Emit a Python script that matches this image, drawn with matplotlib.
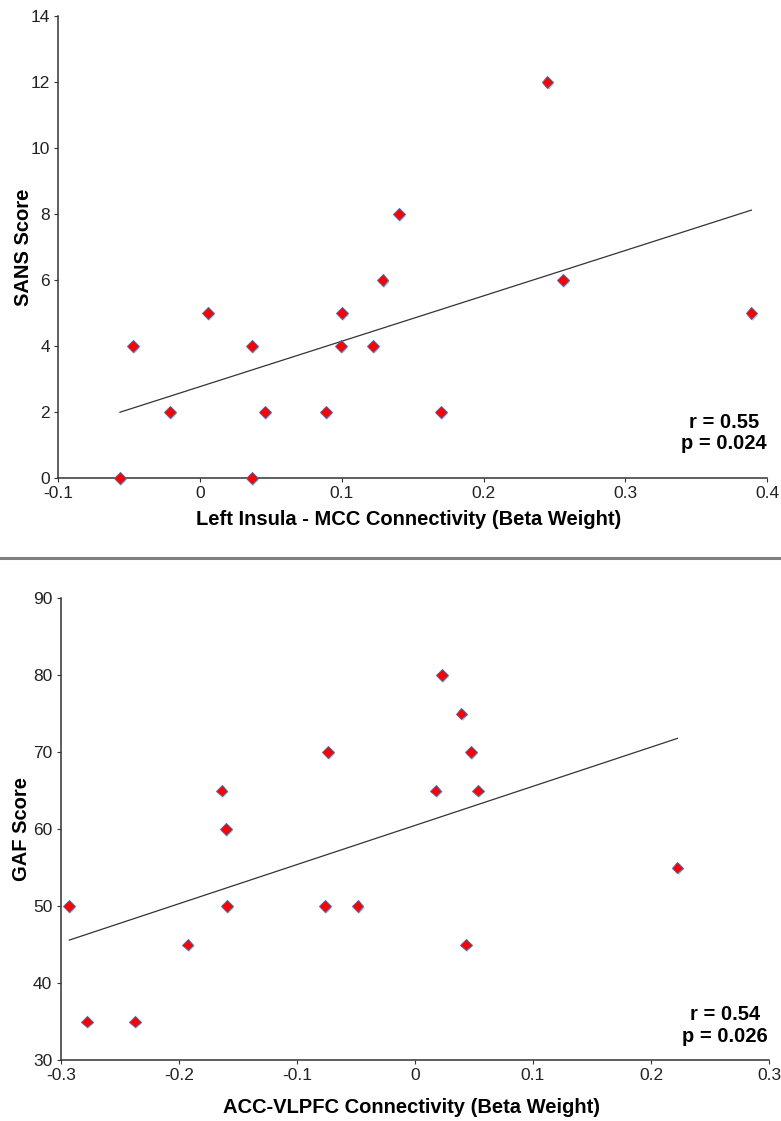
import numpy as np
import matplotlib
matplotlib.use("Agg")
import matplotlib.pyplot as plt
import matplotlib.patheffects as pe

plt.rcParams['font.family'] = ['Liberation Sans', 'DejaVu Sans']

# top panel: left insula - MCC connectivity vs SANS
insula_x = [-0.0565, -0.0475, -0.0212, 0.0054, 0.0368, 0.0368, 0.0458, 0.089, 0.0992,
            0.1003, 0.1222, 0.1288, 0.1405, 0.2451, 0.2561, 0.389, 0.1699]
sans_y = [0, 4, 2, 5, 4, 0, 2, 2, 4, 5, 4, 6, 8, 12, 6, 5, 2]

# bottom panel: ACC-VLPFC connectivity vs GAF
acc_x = [-0.2927, -0.278, -0.2368, -0.1925, -0.1603, -0.159, -0.0762, -0.0485, -0.1637,
         -0.0734, 0.0231, 0.0395, 0.0474, 0.0175, 0.0533, 0.0432, 0.2224]
gaf_y = [50, 35, 35, 45, 60, 50, 50, 50, 65, 70, 80, 75, 70, 65, 65, 45, 55]

top_stats = "r = 0.55\np = 0.024"
bot_stats = "r = 0.54\np = 0.026"

W, H = 781, 1121
fig = plt.figure(figsize=(W / 100, H / 100), dpi=100)

ax1 = fig.add_axes([58.3 / W, 1 - 478 / H, (767 - 58.3) / W, 462 / H])
ax2 = fig.add_axes([60.7 / W, 1 - 1060 / H, (769 - 60.7) / W, 462 / H])


def panel(ax, x, y, xlim, xticks, ylim, yticks, xlabel, ylabel, stats, stat_xy, xl_y, yl_x):
    x = np.array(x)
    y = np.array(y)
    # regression line across data range
    k, b = np.polyfit(x, y, 1)
    xs = np.array([x.min(), x.max()])
    ax.plot(xs, k * xs + b, color='#333333', lw=0.9, zorder=2)
    ax.plot(x, y, ls='none', marker='D', ms=6, mfc='#ff0000', mec='#4a6aa8', mew=0.7,
            zorder=3, path_effects=[pe.withSimplePatchShadow(offset=(0.8, -1.2),
                                                             shadow_rgbFace='#8090b0', alpha=0.45)])
    ax.set_xlim(*xlim)
    ax.set_ylim(*ylim)
    ax.set_xticks(xticks)
    ax.set_yticks(yticks)
    ax.set_xticklabels([('%g' % t) for t in xticks])
    ax.set_yticklabels([('%g' % t) for t in yticks])
    for s in ['top', 'right']:
        ax.spines[s].set_visible(False)
    for s in ['left', 'bottom']:
        ax.spines[s].set_color('#333333')
        ax.spines[s].set_linewidth(1.1)
    ax.tick_params(direction='out', length=3, width=0.8, color='#333333',
                   labelsize=12.5, labelcolor='#222222', pad=3)
    ax.set_xlabel(xlabel, fontsize=14.5, fontweight='bold')
    ax.set_ylabel(ylabel, fontsize=14.5, fontweight='bold')
    ax.xaxis.set_label_coords(0.495, xl_y)
    ax.yaxis.set_label_coords(yl_x, 0.5)
    for line in ax.lines:
        line.set_clip_on(False)
    ax.text(stat_xy[0], stat_xy[1], stats, transform=fig.transFigure, ha='center', va='center',
            fontsize=14.5, fontweight='bold', linespacing=1.15)


panel(ax1, insula_x, sans_y, (-0.1, 0.4), [-0.1, 0, 0.1, 0.2, 0.3, 0.4], (0, 14),
      [0, 2, 4, 6, 8, 10, 12, 14], 'Left Insula - MCC Connectivity (Beta Weight)', 'SANS Score',
      top_stats, (724 / W, 1 - 433 / H), -(510 - 478) / 462, (33 - 58.3) / 708.7)
panel(ax2, acc_x, gaf_y, (-0.3, 0.3), [-0.3, -0.2, -0.1, 0, 0.1, 0.2, 0.3], (30, 90),
      [30, 40, 50, 60, 70, 80, 90], 'ACC-VLPFC Connectivity (Beta Weight)', 'GAF Score',
      bot_stats, (725 / W, 1 - 1025.5 / H), -(1098 - 1060) / 462, (31 - 60.7) / 708.3)

# separator between panels
fig.add_artist(plt.Line2D([0, 1], [1 - 558 / H, 1 - 558 / H], transform=fig.transFigure,
                          color='#808080', lw=2.2))

fig.savefig('out.png', dpi=100)
